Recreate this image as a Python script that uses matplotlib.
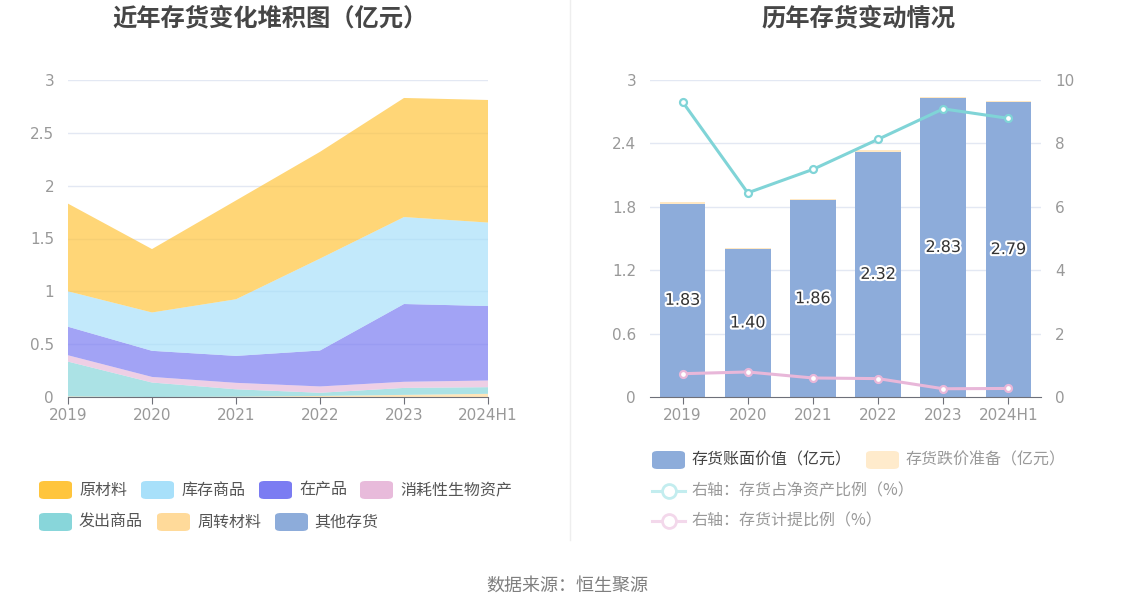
import matplotlib
matplotlib.use("Agg")
import matplotlib.pyplot as plt
from matplotlib.patches import FancyBboxPatch
from matplotlib.lines import Line2D
import matplotlib.patheffects as pe
import numpy as np

plt.rcParams['font.family'] = ['Noto Sans CJK SC', 'DejaVu Sans']

# ---------------- data ----------------
years = ["2019", "2020", "2021", "2022", "2023", "2024H1"]

# left stacked area (亿元), bottom -> top
other_inv = [0.0, 0.0, 0.0, 0.0, 0.0, 0.0]          # 其他存货
turnover_mat = [0.005, 0.0, 0.003, 0.01, 0.02, 0.03]  # 周转材料
shipped_goods = [0.33, 0.137, 0.07, 0.03, 0.066, 0.063]  # 发出商品
bio_assets = [0.06, 0.053, 0.061, 0.06, 0.058, 0.063]    # 消耗性生物资产
wip = [0.27, 0.247, 0.255, 0.34, 0.736, 0.705]          # 在产品
finished_goods = [0.335, 0.363, 0.536, 0.87, 0.823, 0.79]  # 库存商品
raw_materials = [0.83, 0.60, 0.935, 1.01, 1.127, 1.16]   # 原材料

# right chart
book_value = [1.83, 1.40, 1.86, 2.32, 2.83, 2.79]        # 存货账面价值（亿元）
provision = [0.013, 0.011, 0.011, 0.013, 0.008, 0.008]   # 存货跌价准备（亿元）
ratio_net_assets = [9.31, 6.44, 7.18, 8.13, 9.09, 8.79]  # 存货占净资产比例（%）
ratio_provision = [0.735, 0.79, 0.60, 0.58, 0.26, 0.27]  # 存货计提比例（%）

left_yticks = [0, 0.5, 1, 1.5, 2, 2.5, 3]
left_ytick_labels = ["0", "0.5", "1", "1.5", "2", "2.5", "3"]
right_yticks = [0, 0.6, 1.2, 1.8, 2.4, 3]
right_ytick_labels = ["0", "0.6", "1.2", "1.8", "2.4", "3"]
right_y2ticks = [0, 2, 4, 6, 8, 10]

# colours
c_raw = "#FFC53D"
c_fin = "#A8E0FA"
c_wip = "#7B7CF2"
c_bio = "#E8BBDB"
c_ship = "#88D6DA"
c_turn = "#FFDA9A"
c_other = "#8DACDA"
c_bar = "#8DACDA"
c_prov = "#FFE8C4"
c_teal = "#80D4D7"
c_pink = "#E8B7D9"
grid_c = "#E3E8F3"
axis_c = "#6E7079"
tick_txt = "#999999"

W, H = 1134, 612
fig = plt.figure(figsize=(W / 100, H / 100), dpi=100)


def fx(x):
    return x / W


def fy(y):
    return 1 - y / H


# ---------------- left chart ----------------
axL = fig.add_axes([fx(68), fy(397), fx(488) - fx(68), fy(80) - fy(397)])
xs = np.arange(len(years))
layers = [other_inv, turnover_mat, shipped_goods, bio_assets, wip, finished_goods, raw_materials]
lcols = [c_other, c_turn, c_ship, c_bio, c_wip, c_fin, c_raw]
axL.stackplot(xs, *layers, colors=lcols, alpha=0.7, linewidth=0, zorder=2)
axL.set_xlim(0, len(years) - 1)
axL.set_ylim(0, 3)
axL.set_yticks(left_yticks)
axL.set_yticklabels(left_ytick_labels, family="DejaVu Sans")
axL.set_xticks(xs)
axL.set_xticklabels(years, family="DejaVu Sans")
for yv in left_yticks[1:]:
    axL.axhline(yv, color=grid_c, lw=1, zorder=1)
for s in ["top", "right", "left"]:
    axL.spines[s].set_visible(False)
axL.spines["bottom"].set_color(axis_c)
axL.spines["bottom"].set_zorder(5)
axL.tick_params(axis="y", length=0, pad=10, labelsize=11, labelcolor=tick_txt)
axL.tick_params(axis="x", length=5, color=axis_c, pad=3, labelsize=11, labelcolor=tick_txt)

# ---------------- right chart ----------------
axR = fig.add_axes([fx(650), fy(397), fx(1041) - fx(650), fy(80) - fy(397)])
axR.bar(xs, book_value, width=0.7, color=c_bar, zorder=2)
axR.bar(xs, provision, bottom=book_value, width=0.7, color=c_prov, zorder=2)
axR.set_xlim(-0.5, len(years) - 0.5)
axR.set_ylim(0, 3)
axR.set_yticks(right_yticks)
axR.set_yticklabels(right_ytick_labels, family="DejaVu Sans")
axR.set_xticks(xs)
axR.set_xticklabels(years, family="DejaVu Sans")
for yv in right_yticks[1:]:
    axR.axhline(yv, color=grid_c, lw=1, zorder=1)
for s in ["top", "right", "left"]:
    axR.spines[s].set_visible(False)
axR.spines["bottom"].set_color(axis_c)
axR.spines["bottom"].set_zorder(5)
axR.tick_params(axis="y", length=0, pad=10, labelsize=11, labelcolor=tick_txt)
axR.tick_params(axis="x", length=5, color=axis_c, pad=3, labelsize=11, labelcolor=tick_txt)
for i, v in enumerate(book_value):
    axR.text(xs[i], v / 2, f"{v:.2f}", ha="center", va="center", fontsize=11.5,
             family="DejaVu Sans", color="#333333", zorder=6,
             path_effects=[pe.withStroke(linewidth=3, foreground="white")])

axR2 = axR.twinx()
axR2.set_ylim(0, 10)
axR2.set_yticks(right_y2ticks)
axR2.set_yticklabels([str(t) for t in right_y2ticks], family="DejaVu Sans")
for s in ["top", "right", "left", "bottom"]:
    axR2.spines[s].set_visible(False)
axR2.tick_params(axis="y", length=0, pad=10, labelsize=11, labelcolor=tick_txt)
axR2.plot(xs, ratio_net_assets, color=c_teal, lw=2.2, marker="o", ms=5,
          mfc="white", mec=c_teal, mew=1.6, zorder=4)
axR2.plot(xs, ratio_provision, color=c_pink, lw=2.2, marker="o", ms=5,
          mfc="white", mec=c_pink, mew=1.6, zorder=4)

# ---------------- titles & decorations ----------------
fig.text(fx(270), fy(18), "近年存货变化堆积图（亿元）", ha="center", va="center",
         fontsize=17.5, fontweight="bold", color="#464646")
fig.text(fx(859), fy(18), "历年存货变动情况", ha="center", va="center",
         fontsize=17.5, fontweight="bold", color="#464646")
fig.text(fx(567), fy(586), "数据来源：恒生聚源", ha="center", va="center",
         fontsize=13, color="#7F7F7F")
fig.add_artist(Line2D([fx(570), fx(570)], [fy(0), fy(540)], color="#EEEEEE", lw=1))


def swatch(x0, yc, color, w=33, h=18):
    p = FancyBboxPatch((fx(x0), fy(yc + h / 2)), fx(w), h / H,
                       boxstyle="round,pad=0,rounding_size=0.005",
                       transform=fig.transFigure, facecolor=color, edgecolor="none")
    fig.add_artist(p)


def legend_text(x, yc, s, color="#555555"):
    fig.text(fx(x), fy(yc), s, ha="left", va="center", fontsize=11.5, color=color)


# left legend
left_items = [
    (39, 490, c_raw, 79, "原材料"),
    (141, 490, c_fin, 181, "库存商品"),
    (259, 490, c_wip, 299, "在产品"),
    (360, 490, c_bio, 400, "消耗性生物资产"),
    (39, 522, c_ship, 79, "发出商品"),
    (157, 522, c_turn, 197, "周转材料"),
    (275, 522, c_other, 314, "其他存货"),
]
for sx, sy, col, tx, lab in left_items:
    swatch(sx, sy, col)
    legend_text(tx, sy, lab)

# right legend
swatch(652, 460, c_bar)
legend_text(692, 460, "存货账面价值（亿元）", "#444444")
swatch(866, 460, "#FFEBCC")
legend_text(906, 460, "存货跌价准备（亿元）", "#999999")
for yc, col, lab in [(491, "#C3EDEF", "右轴：存货占净资产比例（%）"),
                     (521, "#F3D8EB", "右轴：存货计提比例（%）")]:
    fig.add_artist(Line2D([fx(652), fx(685)], [fy(yc), fy(yc)], color=col, lw=2.2))
    fig.add_artist(Line2D([fx(668.5)], [fy(yc)], marker="o", ms=10, mfc="white",
                          mec=col, mew=2, color=col))
    legend_text(692, yc, lab, "#999999")

fig.savefig("out.png", dpi=100)
